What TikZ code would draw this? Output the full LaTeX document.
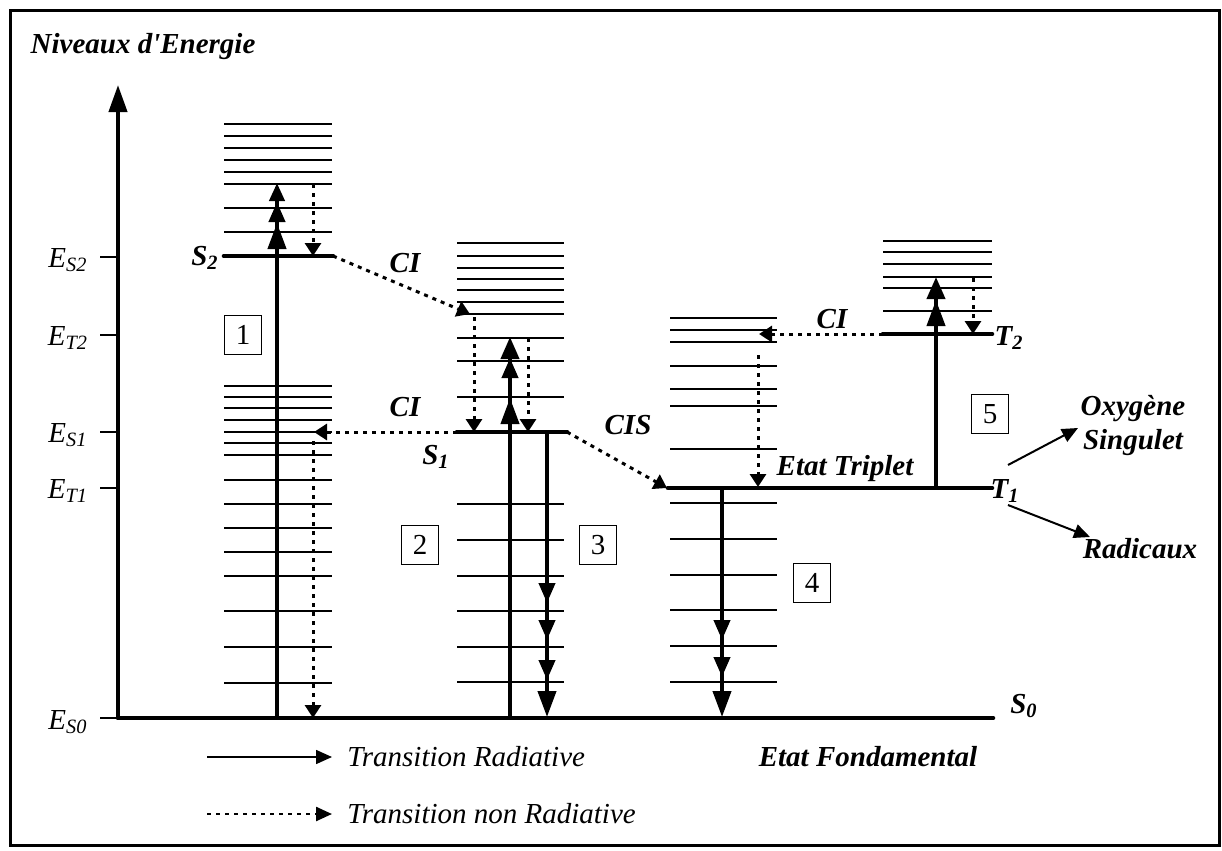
\documentclass[tikz,border=0pt]{standalone}
\usepackage{fontspec}
\setmainfont{Liberation Serif}[Ligatures=TeXOff]
\usetikzlibrary{arrows.meta,decorations.markings}
\tikzset{
  lvl/.style={line width=1pt},
  mainlvl/.style={line width=2.3pt, line cap=round},
  rad/.style={line width=2pt},
  nonrad/.style={line width=1.5pt, dash pattern=on 2pt off 2.5pt, -{Triangle[length=6.5pt,width=8pt]}},
  bigtip/.style={-{Triangle[length=13pt,width=9pt]}},
  xhead/.style={postaction={decorate,decoration={markings,mark=at position #1 with {\arrow{Triangle[length=10pt,width=8pt]}}}}},
  xheadbig/.style={postaction={decorate,decoration={markings,mark=at position #1 with {\arrow{Triangle[length=13pt,width=9pt]}}}}},
  lab/.style={font=\fontsize{14.5}{17}\selectfont\bfseries\itshape, inner sep=0pt},
  txt/.style={font=\fontsize{14.5}{17}\selectfont\itshape, inner sep=0pt},
  numbox/.style={draw, line width=0.7pt, minimum width=18.5pt, minimum height=19.5pt, inner sep=0pt, font=\fontsize{14.5}{17}\selectfont},
  tick/.style={line width=1pt},
  thinarrow/.style={line width=1pt, -{Triangle[length=8pt,width=7pt]}}
}
\begin{document}
\begin{tikzpicture}[x=0.5pt,y=-0.5pt]
\useasboundingbox (0,0) rectangle (1222,851);
% frame
\draw[line width=1.5pt] (10,10) rectangle (1219,845);
\node[lab] (title) at (143,47) {Niveaux d'Energie};

% axis
\coordinate (ax0) at (118,718);
\coordinate (ax1) at (118,85);
\draw[line width=2pt, -{Triangle[length=13.5pt,width=9pt]}] (ax0) -- (ax1);

% ticks and energy labels
\foreach \y in {257, 335, 432, 488, 718}{
  \draw[tick] (100,\y) -- (118,\y);
}
\node[txt] (es2) at (68,260) {E\textsubscript{S2}};
\node[txt] (et2) at (68,338) {E\textsubscript{T2}};
\node[txt] (es1) at (68,435) {E\textsubscript{S1}};
\node[txt] (et1) at (68,491) {E\textsubscript{T1}};
\node[txt] (es0) at (68,722) {E\textsubscript{S0}};

% ground state
\coordinate (s0a) at (118,718);
\coordinate (s0b) at (993,718);
\draw[mainlvl] (s0a) -- (s0b);

% stack 1 (S2 and vibrational levels)
\foreach \y in {124,136,148,160,172,184,208,232,386,397,408,420,432,443,455,480,504,528,552,576,611,647,683}
  \draw[lvl] (224,\y) -- (332,\y);
\coordinate (s2a) at (224,256);
\coordinate (s2b) at (333,256);
\draw[mainlvl] (s2a) -- (s2b);

% stack 2 (S1)
\foreach \y in {243,256,268,279,290,302,314,338,361,397,504,540,576,611,647,682}
  \draw[lvl] (457,\y) -- (564,\y);
\coordinate (s1a) at (457,432);
\coordinate (s1b) at (567,432);
\draw[mainlvl] (s1a) -- (s1b);

% stack 4 (T1)
\foreach \y in {318,330,342,366,389,406,449,503,539,575,610,646,682}
  \draw[lvl] (670,\y) -- (777,\y);
\coordinate (t1a) at (668,488);
\coordinate (t1b) at (992,488);
\draw[mainlvl] (t1a) -- (t1b);

% stack 5 (T2)
\foreach \y in {241,252,264,277,288,311}
  \draw[lvl] (883,\y) -- (992,\y);
\coordinate (t2a) at (883,334);
\coordinate (t2b) at (992,334);
\draw[mainlvl] (t2a) -- (t2b);

% transition 1 : absorption S0 -> S2
\coordinate (r1a) at (277,718);
\coordinate (r1b) at (277,183);
\draw[rad, -{Triangle[length=9pt,width=7.5pt]}, xhead=-9.5pt, xheadbig=-20pt] (r1a) -- (r1b);
\coordinate (d1a) at (313,184);
\coordinate (d1b) at (313,256);
\draw[nonrad] (d1a) -- (d1b);

% CI S2 -> S1 manifold
\coordinate (ci1b) at (470,314);
\draw[nonrad] (s2b) -- (ci1b);
\coordinate (d2a) at (474,317);
\coordinate (d2b) at (474,432);
\draw[nonrad] (d2a) -- (d2b);

% transition 2 : absorption S0 -> S1 manifold
\coordinate (r2a) at (510,718);
\coordinate (r2b) at (510,337);
\draw[rad, -{Triangle[length=11pt,width=9pt]}, xhead=-10.5pt, xheadbig=-30.5pt] (r2a) -- (r2b);
\coordinate (d3a) at (528,338);
\coordinate (d3b) at (528,432);
\draw[nonrad] (d3a) -- (d3b);

% CI S1 -> S0 manifold
\coordinate (ci2b) at (314,432);
\draw[nonrad] (s1a) -- (ci2b);
\coordinate (d4a) at (313,441);
\coordinate (d4b) at (313,718);
\draw[nonrad] (d4a) -- (d4b);

% transition 3 : fluorescence
\coordinate (r3a) at (547,432);
\coordinate (r3b) at (547,717);
\draw[rad, bigtip, xhead=-57pt, xhead=-38.5pt, xhead=-18.5pt] (r3a) -- (r3b);

% CIS S1 -> T1
\coordinate (cisb) at (667,488);
\draw[nonrad] (s1b) -- (cisb);

% transition 4 : phosphorescence
\coordinate (r4a) at (722,488);
\coordinate (r4b) at (722,717);
\draw[rad, bigtip, xhead=-38.5pt, xhead=-20pt] (r4a) -- (r4b);
\coordinate (d5a) at (758,355);
\coordinate (d5b) at (758,487);
\draw[nonrad] (d5a) -- (d5b);

% CI T2 -> T1 manifold
\coordinate (ci3b) at (759,334);
\draw[nonrad] (t2a) -- (ci3b);

% transition 5 : T1 -> T2
\coordinate (r5a) at (936,488);
\coordinate (r5b) at (936,277);
\draw[rad, -{Triangle[length=11pt,width=9pt]}, xheadbig=-11.5pt] (r5a) -- (r5b);
\coordinate (d6a) at (973,278);
\coordinate (d6b) at (973,334);
\draw[nonrad] (d6a) -- (d6b);

% state labels
\node[lab] (S2) at (205,258) {S\textsubscript{2}};
\node[lab] (S1) at (436,457) {S\textsubscript{1}};
\node[lab] (T2) at (1009,338) {T\textsubscript{2}};
\node[lab] (T1) at (1005,491) {T\textsubscript{1}};
\node[lab] (S0) at (1024,706) {S\textsubscript{0}};

\node[lab] (ci1) at (405,263) {CI};
\node[lab] (ci2) at (405,407) {CI};
\node[lab] (ci3) at (832,319) {CI};
\node[lab] (cis) at (628,425) {CIS};
\node[lab] (trip) at (845,469) {Etat Triplet};
\node[lab] (fond) at (868,757) {Etat Fondamental};

% numbered boxes
\node[numbox] (b1) at (243,335) {1};
\node[numbox] (b2) at (420,545) {2};
\node[numbox] (b3) at (598,545) {3};
\node[numbox] (b4) at (812,583) {4};
\node[numbox] (b5) at (990,414) {5};

% products
\node[lab, align=center] (oxy) at (1133,426) {Oxygène\\Singulet};
\node[lab] (rad) at (1140,549) {Radicaux};
\coordinate (p1a) at (1008,465);
\coordinate (p1b) at (1078,428);
\coordinate (p2a) at (1008,505);
\coordinate (p2b) at (1090,537);
\draw[thinarrow] (p1a) -- (p1b);
\draw[thinarrow] (p2a) -- (p2b);

% legend
\coordinate (la) at (207,757);
\coordinate (lb) at (332,757);
\coordinate (lc) at (207,814);
\coordinate (ld) at (332,814);
\draw[line width=0.8pt, -{Triangle[length=8pt,width=7pt]}] (la) -- (lb);
\draw[line width=1.2pt, dash pattern=on 2pt off 2.5pt, -{Triangle[length=8pt,width=7pt]}] (lc) -- (ld);
\node[txt, anchor=west] (lrad) at (347,757) {Transition Radiative};
\node[txt, anchor=west] (lnon) at (347,814) {Transition non Radiative};
\end{tikzpicture}
\end{document}
